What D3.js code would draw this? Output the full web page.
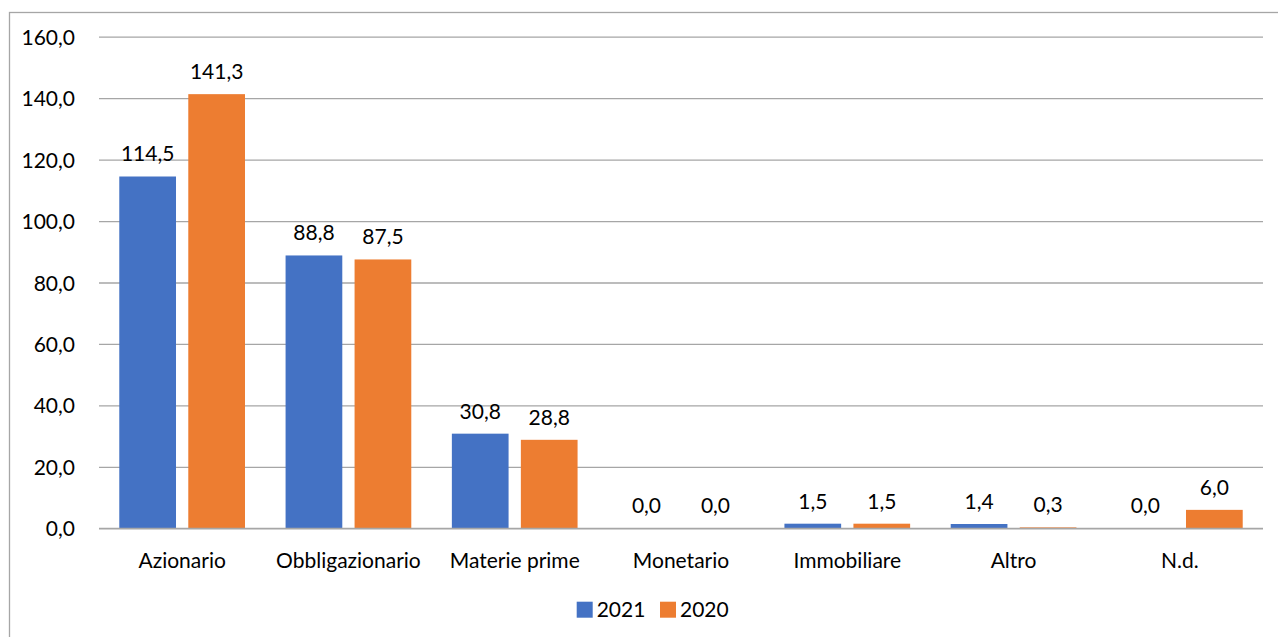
<!DOCTYPE html>
<html>
<head>
<meta charset="utf-8">
<script src="https://cdn.jsdelivr.net/npm/d3@7"></script>
<style>
  html, body { margin: 0; padding: 0; background: #fff; }
  svg { display: block; }
  text { font-family: Lato, "Open Sans", sans-serif; fill: #000; }
</style>
</head>
<body>
<svg id="chart" width="1278" height="637"></svg>
<script>
const categories = ["Azionario", "Obbligazionario", "Materie prime", "Monetario", "Immobiliare", "Altro", "N.d."];
const seriesNames = ["2021", "2020"];
const values2021 = [114.5, 88.8, 30.8, 0.0, 1.5, 1.4, 0.0];
const values2020 = [141.3, 87.5, 28.8, 0.0, 1.5, 0.3, 6.0];
const yTicks = [0, 20, 40, 60, 80, 100, 120, 140, 160];
const colors = ["#4472C4", "#ED7D31"];

const seriesValues = [values2021, values2020];
const fmt = v => v.toFixed(1).replace(".", ",");

const svg = d3.select("#chart");
const fontSize = 21;

// chart border
svg.append("rect")
  .attr("x", 9.5).attr("y", 12.5)
  .attr("width", 1300).attr("height", 700)
  .attr("fill", "none").attr("stroke", "#A6A6A6").attr("stroke-width", 1.3);

const plotLeft = 99, plotRight = 1263;
const y = d3.scaleLinear().domain([0, 160]).range([528.3, 36.7]);
const x0 = d3.scaleBand().domain(categories).range([plotLeft, plotRight]).padding(0);
const bw = x0.bandwidth();
const x1 = d3.scaleBand().domain(seriesNames)
  .range([bw * 0.122, bw * 0.878]).paddingInner(0.178).paddingOuter(0);

// gridlines
const yAxis = d3.axisLeft(y).tickValues(yTicks).tickSize(-(plotRight - plotLeft)).tickFormat(fmt).tickPadding(24);
const gAxis = svg.append("g").attr("transform", `translate(${plotLeft},0)`).call(yAxis);
gAxis.select(".domain").remove();
gAxis.selectAll(".tick line").attr("stroke", "#A6A6A6").attr("stroke-width", 1.3);
gAxis.selectAll(".tick text")
  .attr("font-size", fontSize).attr("font-family", "Lato, sans-serif")
  .attr("fill", "#000").attr("dy", "0.36em");

// bars
const groups = svg.append("g").selectAll("g")
  .data(categories)
  .join("g")
  .attr("transform", d => `translate(${x0(d)},0)`);

seriesNames.forEach((s, si) => {
  groups.append("rect")
    .attr("x", x1(s))
    .attr("y", (d, i) => y(seriesValues[si][i]))
    .attr("width", x1.bandwidth())
    .attr("height", (d, i) => y(0) - y(seriesValues[si][i]))
    .attr("fill", colors[si]);
  groups.append("text")
    .attr("x", x1(s) + x1.bandwidth() / 2)
    .attr("y", (d, i) => y(seriesValues[si][i]) - 15)
    .attr("text-anchor", "middle")
    .attr("font-size", fontSize)
    .text((d, i) => fmt(seriesValues[si][i]));
});

// redraw zero line on top
svg.append("line")
  .attr("x1", plotLeft).attr("x2", plotRight)
  .attr("y1", y(0)).attr("y2", y(0))
  .attr("stroke", "#A6A6A6").attr("stroke-width", 1.3);

// x axis labels
const xAxis = d3.axisBottom(x0).tickSize(0).tickPadding(25);
const gx = svg.append("g").attr("transform", `translate(0,${y(0)})`).call(xAxis);
gx.select(".domain").remove();
gx.selectAll(".tick text").attr("font-size", fontSize).attr("font-family", "Lato, sans-serif").attr("fill", "#000");

// legend
const legend = svg.append("g");
const legendX = [576.7, 660];
seriesNames.forEach((s, si) => {
  legend.append("rect")
    .attr("x", legendX[si]).attr("y", 601.7)
    .attr("width", 16).attr("height", 16)
    .attr("fill", colors[si]);
  legend.append("text")
    .attr("x", legendX[si] + 20).attr("y", 617)
    .attr("font-size", fontSize)
    .text(s);
});
</script>
</body>
</html>
